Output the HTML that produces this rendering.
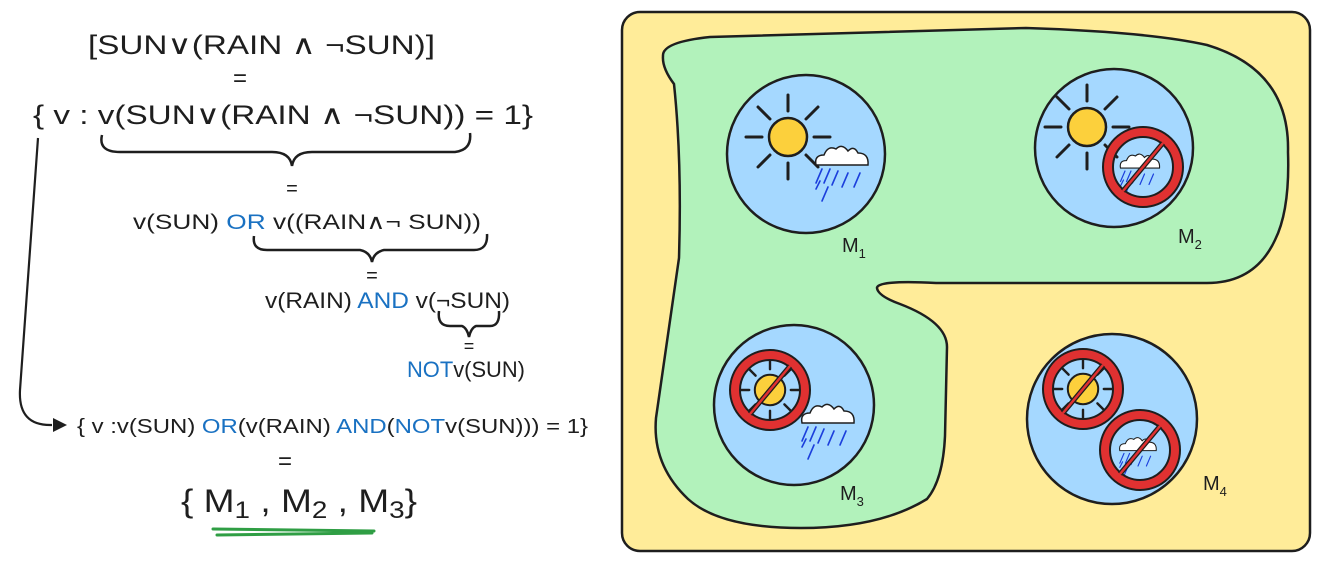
<!DOCTYPE html>
<html><head><meta charset="utf-8"><style>
html,body{margin:0;padding:0;background:#fff;}
svg{display:block;}
text{font-family:"Liberation Sans","DejaVu Sans",sans-serif;fill:#1e1e1e;}
.b{fill:#1971c2;}
</style></head><body>
<svg width="1323" height="575" viewBox="0 0 1323 575" xmlns="http://www.w3.org/2000/svg">
<defs>
<g id="sun">
  <g stroke="#1e1e1e" stroke-width="3" stroke-linecap="round">
    <line x1="26" y1="0" x2="42" y2="0"/><line x1="-26" y1="0" x2="-42" y2="0"/>
    <line x1="0" y1="26" x2="0" y2="42"/><line x1="0" y1="-26" x2="0" y2="-42"/>
    <line x1="18" y1="18" x2="30" y2="30"/><line x1="-18" y1="18" x2="-30" y2="30"/>
    <line x1="18" y1="-18" x2="30" y2="-30"/><line x1="-18" y1="-18" x2="-30" y2="-30"/>
  </g>
  <circle r="19" fill="#fcd03c" stroke="#1e1e1e" stroke-width="2.5"/>
</g>
<g id="cloud">
  <path d="M-26,8 Q-28,-2 -18,-2 Q-14,-12 -6,-8 Q0,-14 6,-6 Q12,-12 16,-4 Q27,-4 26,8 Z" fill="#fff" stroke="#1e1e1e" stroke-width="1.5"/>
  <g stroke="#1c3fdc" stroke-width="1.6" stroke-linecap="round">
    <line x1="-20" y1="12" x2="-26" y2="26"/><line x1="-12" y1="12" x2="-18" y2="26"/>
    <line x1="-4" y1="14" x2="-10" y2="28"/><line x1="6" y1="16" x2="0" y2="30"/>
    <line x1="18" y1="16" x2="12" y2="30"/><line x1="-14" y1="30" x2="-20" y2="44"/>
    <line x1="-22" y1="24" x2="-26" y2="32"/>
  </g>
</g>
<g id="ban">
  <circle r="35" fill="none" stroke="#1e1e1e" stroke-width="12"/>
  <circle r="35" fill="none" stroke="#e03131" stroke-width="8"/>
  <line x1="20" y1="-24" x2="-20" y2="24" stroke="#1e1e1e" stroke-width="5"/>
  <line x1="20" y1="-24" x2="-20" y2="24" stroke="#e03131" stroke-width="2.5"/>
</g>
</defs>

<!-- LEFT -->
<text x="88" y="54" font-size="27" textLength="347" lengthAdjust="spacingAndGlyphs">[SUN∨(RAIN ∧ ¬SUN)]</text>
<text x="240" y="86" font-size="24" text-anchor="middle">=</text>
<text x="33" y="124" font-size="27" textLength="500" lengthAdjust="spacingAndGlyphs">{ v : v(SUN∨(RAIN ∧ ¬SUN)) = 1}</text>
<path d="M102,135 Q98,152 120,152 L272,152 Q290,152 292,166 Q294,152 312,152 L455,152 Q472,150 470,133" fill="none" stroke="#1e1e1e" stroke-width="2.5"/>
<text x="292" y="195" font-size="20" text-anchor="middle">=</text>
<text x="133" y="229" font-size="21" textLength="348" lengthAdjust="spacingAndGlyphs">v(SUN) <tspan class="b">OR</tspan> v((RAIN∧¬ SUN))</text>
<path d="M254,236 Q252,250 267,250 L360,250 Q370,252 372,262 Q374,252 384,250 L474,250 Q488,250 487,234" fill="none" stroke="#1e1e1e" stroke-width="2.5"/>
<text x="372" y="282" font-size="20" text-anchor="middle">=</text>
<text x="265" y="308" font-size="22" textLength="245" lengthAdjust="spacingAndGlyphs">v(RAIN) <tspan class="b">AND</tspan> v(¬SUN)</text>
<path d="M439,311 Q437,326 450,326 L462,326 Q467,328 469,337 Q471,328 476,326 L490,326 Q500,326 499,311" fill="none" stroke="#1e1e1e" stroke-width="2.5"/>
<text x="469" y="352" font-size="18" text-anchor="middle">=</text>
<text x="407" y="377" font-size="22" textLength="118" lengthAdjust="spacingAndGlyphs"><tspan class="b">NOT</tspan>v(SUN)</text>
<path d="M38,138 L20,390 Q18,426 52,425" fill="none" stroke="#1e1e1e" stroke-width="2.2"/>
<path d="M53,418 L67,425 L53,432 Z" fill="#1e1e1e"/>
<text x="77" y="433" font-size="20" textLength="511" lengthAdjust="spacingAndGlyphs">{ v :v(SUN) <tspan class="b">OR</tspan>(v(RAIN) <tspan class="b">AND</tspan>(<tspan class="b">NOT</tspan>v(SUN))) = 1}</text>
<text x="285" y="469" font-size="24" text-anchor="middle">=</text>
<text x="181" y="512" font-size="32" textLength="236" lengthAdjust="spacingAndGlyphs">{ M<tspan font-size="24" dy="6">1</tspan><tspan dy="-6"> , M</tspan><tspan font-size="24" dy="6">2</tspan><tspan dy="-6"> , M</tspan><tspan font-size="24" dy="6">3</tspan><tspan dy="-6">}</tspan></text>
<path d="M213,529 L374,531" stroke="#2f9e44" stroke-width="3" stroke-linecap="round"/>
<path d="M217,535 L372,533" stroke="#2f9e44" stroke-width="3" stroke-linecap="round"/>

<!-- RIGHT -->
<rect x="622" y="12" width="688" height="539" rx="18" fill="#ffec99" stroke="#1e1e1e" stroke-width="2.5"/>
<path d="M663,56 Q662,42 710,37 L1026,28 Q1150,32 1207,45 Q1290,70 1288,152 Q1290,210 1275,240 Q1255,283 1207,283 L936,283 Q877,280 877,288 Q878,296 900,304 Q947,322 947,347 L945,436 Q943,480 927,499 Q880,528 801,528 Q720,528 688,499 Q652,465 656,418 L679,258 Q682,160 674,84 Q662,68 663,56 Z" fill="#b2f2bb" stroke="#1e1e1e" stroke-width="2.5"/>

<circle cx="806" cy="154" r="79" fill="#a5d8ff" stroke="#1e1e1e" stroke-width="2.5"/>
<use href="#sun" x="788" y="137"/>
<use href="#cloud" x="842" y="157"/>
<text x="842" y="252" font-size="20">M<tspan font-size="13" dy="6">1</tspan></text>

<circle cx="1114" cy="148" r="79" fill="#a5d8ff" stroke="#1e1e1e" stroke-width="2.5"/>
<use href="#sun" x="1087" y="127"/>
<use href="#cloud" transform="translate(1140,162) scale(0.75)"/>
<use href="#ban" x="1143" y="167"/>
<text x="1178" y="243" font-size="20">M<tspan font-size="13" dy="6">2</tspan></text>

<circle cx="794" cy="405" r="80" fill="#a5d8ff" stroke="#1e1e1e" stroke-width="2.5"/>
<use href="#sun" transform="translate(770,390) scale(0.8)"/>
<use href="#ban" x="770" y="390"/>
<use href="#cloud" x="828" y="415"/>
<text x="840" y="500" font-size="20">M<tspan font-size="13" dy="6">3</tspan></text>

<circle cx="1112" cy="419" r="85" fill="#a5d8ff" stroke="#1e1e1e" stroke-width="2.5"/>
<use href="#sun" transform="translate(1083,389) scale(0.8)"/>
<use href="#ban" x="1083" y="389"/>
<use href="#cloud" transform="translate(1138,445) scale(0.7)"/>
<use href="#ban" x="1140" y="450"/>
<text x="1203" y="490" font-size="20">M<tspan font-size="13" dy="6">4</tspan></text>
</svg>
</body></html>
